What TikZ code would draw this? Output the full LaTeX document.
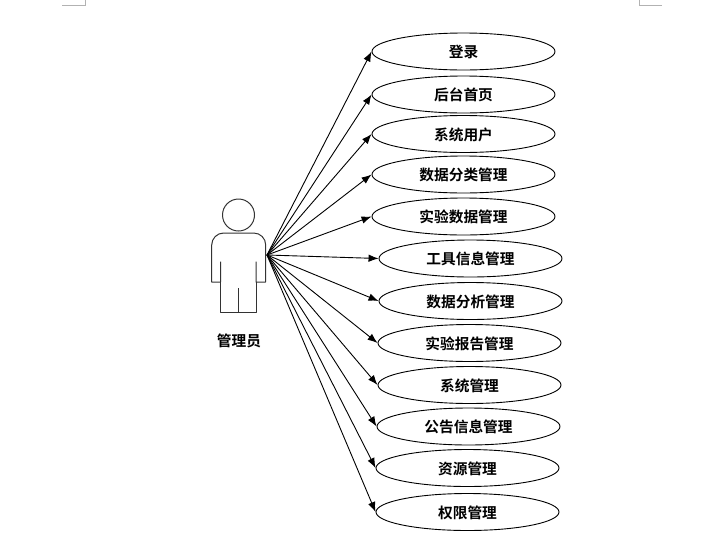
\documentclass[tikz,border=0pt]{standalone}
\usepackage{fontspec}
\setmainfont{Noto Sans CJK SC}[BoldFont={Noto Sans CJK SC Bold}]
\usetikzlibrary{shapes.geometric,arrows.meta}
\tikzset{
  uc/.style={draw=black,ellipse,minimum width=183pt,minimum height=37pt,inner sep=0pt,line width=0.9pt,text depth=0pt,font=\fontsize{14.7pt}{16pt}\selectfont\bfseries},
  link/.style={draw=black,line width=0.9pt,-{Latex[length=10pt,width=7.5pt]}},
  actor/.style={draw=black!80,line width=1pt,line join=round},
  crop/.style={draw=black!30,line width=1pt},
}
\begin{document}
\begin{tikzpicture}[x=1pt,y=-1pt]
\useasboundingbox (0,0) rectangle (723,555);
\draw[crop] (62,5) -- (85,5) -- (85,0);
\draw[crop] (662,5) -- (639,5) -- (639,0);
\draw[actor] (238.5,215) circle (16);
\draw[actor] (220.7,261.7) -- (220.7,282) -- (211.7,282) -- (211.7,245) arc[start angle=180,end angle=90,x radius=12,y radius=-12] -- (253.7,233) arc[start angle=90,end angle=0,x radius=12,y radius=-12] -- (265.7,282) -- (256,282) -- (256,261.7);
\draw[actor] (220.7,282) -- (220.7,312) -- (256,312) -- (256,282);
\draw[actor] (238.5,288) -- (238.5,312);
\node[font=\fontsize{14.7pt}{16pt}\selectfont\bfseries,inner sep=0pt] (actorlabel) at (239,340.5) {管理员};
\coordinate (hub) at (267,255);
\node[uc] (a) at (463.5,51.5) {登录};
\node[uc] (b) at (463.5,94.5) {后台首页};
\node[uc] (c) at (463.5,134) {系统用户};
\node[uc] (d) at (463.5,174.5) {数据分类管理};
\node[uc] (e) at (463.5,216.5) {实验数据管理};
\node[uc] (f) at (470.5,258.5) {工具信息管理};
\node[uc] (g) at (470.5,301) {数据分析管理};
\node[uc] (h) at (469.5,343) {实验报告管理};
\node[uc] (i) at (469.5,385) {系统管理};
\node[uc] (j) at (468.5,426.5) {公告信息管理};
\node[uc] (k) at (467.5,468) {资源管理};
\node[uc] (l) at (467.5,512) {权限管理};
\foreach \n in {a,b,c,d,e,f,g,h,i,j,k,l} \draw[link] (hub) -- (\n.west);
\end{tikzpicture}
\end{document}
